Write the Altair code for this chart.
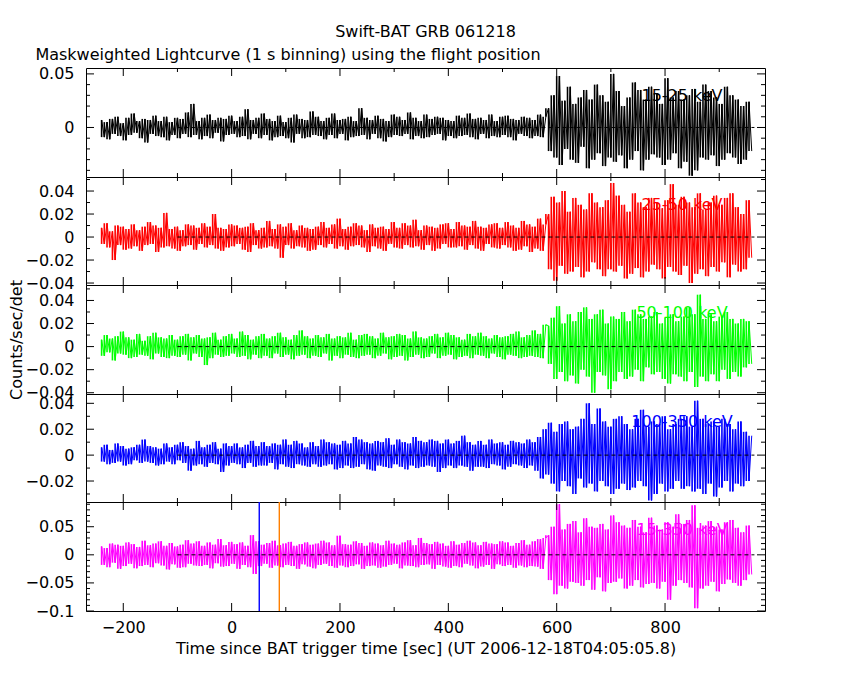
import altair as alt
import pandas as pd

FONT = "DejaVu Sans"
STEP = 5.0          # seconds between plotted samples
PRE_START = -240.0  # first sample time

# ---- count rates, in units of 1e-3 counts/sec/det ----
# 15-25 keV
p1_pre = [7,-9,5,-11,8,-6,10,-8,4,-12,
          9,-7,13,-5,6,-10,8,-14,7,-6,
          11,-8,6,-9,10,-12,5,-7,9,-10,
          8,-6,14,-9,22,-7,6,-11,9,-8,
          12,-10,7,-5,9,-13,8,-7,11,-6,
          6,-9,10,-8,17,-11,7,-6,9,-10,
          13,-7,8,-12,6,-9,11,-8,5,-10,
          9,-14,12,-6,8,-10,7,-9,15,-7,
          10,-8,6,-11,9,-7,13,-10,7,-6,
          8,-12,10,-9,6,-8,18,-7,9,-11,
          7,-6,11,-10,8,-13,6,-9,12,-7,
          10,-8,7,-6,14,-11,9,-8,6,-10,
          12,-9,8,-7,10,-6,9,-12,7,-8,
          6,-10,11,-8,9,-7,13,-9,8,-11,
          9,-6,7,-10,12,-8,6,-9,10,-7,
          11,-9,8,-12,7,-6,10,-8,9,-10,
          7,-8,12,-9,10]
p1_post = [18,-22,30,-28,48,-35,25,-20,38,-30,
           22,-33,28,-18,35,-38,26,-30,40,-24,
           30,-36,24,-28,50,-32,34,-26,20,-38,
           28,-30,42,-22,35,-40,26,-30,38,-25,
           32,-28,22,-35,46,-30,28,-24,34,-38,
           26,-32,30,-45,36,-40,24,-28,40,-30,
           34,-26,28,-36,22,-30,38,-24,30,-28,
           26,-34,20,-30,24,-22]
# 25-50 keV
p2_pre = [8,-6,12,-9,5,-20,10,-7,9,-11,
          7,-10,11,-8,6,-12,9,-7,13,-6,
          10,-13,8,-9,21,-8,7,-10,9,-12,
          6,-8,11,-7,10,-11,8,-6,12,-9,
          9,-7,20,-10,8,-12,7,-9,11,-8,
          10,-6,8,-11,9,-13,12,-7,6,-10,
          8,-9,14,-8,7,-10,11,-18,9,-7,
          12,-10,6,-8,10,-9,8,-12,7,-11,
          9,-7,13,-9,8,-6,11,-10,16,-8,
          7,-11,9,-8,12,-7,10,-9,6,-13,
          11,-8,8,-10,9,-12,7,-6,13,-9,
          8,-10,12,-7,10,-9,15,-8,6,-11,
          10,-7,9,-12,8,-10,11,-6,12,-9,
          7,-9,13,-8,10,-11,9,-7,14,-10,
          9,-12,8,-6,11,-9,12,-10,8,-7,
          13,-9,10,-12,8,-11,14,-8,11,-13,
          9,-10,16,-12,11]
p2_post = [20,-28,35,-38,30,-25,40,-32,22,-30,
           34,-26,28,-35,24,-30,38,-22,30,-28,
           26,-34,32,-28,47,-30,36,-25,28,-36,
           22,-32,38,-27,30,-35,26,-30,34,-24,
           30,-28,25,-36,32,-26,46,-30,28,-33,
           35,-25,30,-40,26,-32,38,-28,24,-34,
           30,-26,36,-30,28,-22,34,-35,38,-24,
           26,-30,20,-28,32,-18]
# 50-100 keV
p3_pre = [6,-8,10,-5,7,-12,9,-6,13,-7,
          8,-10,6,-9,11,-7,5,-8,9,-11,
          12,-6,8,-9,7,-10,10,-8,6,-9,
          9,-7,11,-12,8,-6,10,-9,7,-16,
          8,-10,12,-7,6,-9,9,-8,11,-6,
          7,-9,13,-8,10,-11,6,-7,9,-10,
          11,-8,7,-10,9,-6,12,-9,8,-7,
          6,-11,10,-8,14,-7,9,-10,7,-8,
          10,-9,8,-6,11,-12,7,-8,9,-10,
          8,-7,12,-9,6,-10,10,-8,11,-7,
          9,-10,7,-8,12,-6,8,-11,9,-9,
          11,-8,10,-12,7,-9,13,-7,8,-10,
          7,-9,9,-6,11,-10,8,-8,12,-7,
          10,-11,8,-9,6,-8,11,-10,9,-7,
          12,-8,9,-10,7,-6,10,-9,8,-11,
          9,-7,11,-8,13,-10,8,-9,10,-8,
          14,-9,11,-10,19]
p3_post = [18,-15,25,-28,35,-22,20,-30,28,-25,
           22,-32,30,-20,34,-26,24,-40,28,-22,
           32,-25,20,-37,26,-30,24,-22,30,-28,
           22,-26,32,-20,28,-30,24,-18,26,-24,
           30,-22,20,-28,25,-32,28,-24,22,-26,
           26,-30,34,-22,28,-35,45,-26,24,-30,
           28,-24,22,-30,26,-20,30,-28,24,-22,
           20,-26,24,-18,22,-15]
# 100-350 keV
p4_pre = [6,-5,8,-7,4,-6,9,-5,7,-8,
          5,-7,6,-4,8,-6,12,-5,7,-6,
          6,-8,5,-7,9,-5,6,-7,8,-4,
          10,-6,7,-12,5,-8,11,-7,6,-9,
          8,-6,10,-7,5,-13,9,-8,7,-6,
          9,-7,6,-10,8,-6,11,-9,7,-8,
          10,-8,7,-6,9,-11,8,-7,12,-9,
          8,-10,11,-7,9,-8,6,-9,10,-7,
          7,-9,12,-8,10,-7,9,-11,8,-10,
          11,-8,9,-10,14,-9,12,-7,10,-11,
          9,-12,11,-8,10,-9,13,-10,8,-7,
          12,-9,10,-11,9,-8,14,-10,11,-9,
          10,-8,12,-9,11,-13,9,-10,12,-8,
          9,-10,11,-8,15,-9,10,-12,8,-9,
          11,-9,8,-10,12,-7,9,-8,10,-11,
          8,-9,11,-7,10,-8,9,-10,12,-8,
          10,-12]
p4_post = [14,-18,20,-15,25,-22,18,-28,24,-20,
           26,-24,20,-30,22,-18,28,-25,40,-22,
           24,-28,36,-20,26,-24,22,-30,28,-26,
           30,-22,24,-27,20,-25,28,-20,35,-24,
           22,-35,26,-30,24,-22,30,-28,20,-26,
           24,-20,28,-26,30,-24,22,-28,42,-26,
           28,-30,24,-22,26,-32,22,-25,28,-20,
           24,-28,20,-22,26,-24,18,-20,15]
# 15-350 keV
p5_pre = [15,-18,12,-22,20,-14,18,-25,16,-20,
          22,-16,19,-24,14,-20,25,-18,17,-22,
          20,-15,24,-19,16,-26,21,-17,15,-23,
          18,-22,26,-16,20,-19,24,-20,16,-18,
          22,-24,18,-15,28,-21,17,-20,23,-16,
          19,-25,22,-18,16,-22,35,-34,24,-20,
          18,-16,21,-23,25,-19,17,-22,20,-18,
          23,-20,16,-25,19,-17,22,-21,18,-24,
          20,-18,25,-16,22,-20,17,-23,34,-19,
          19,-22,18,-20,24,-17,21,-25,16,-20,
          22,-19,20,-23,17,-21,25,-18,20,-16,
          18,-24,22,-19,26,-20,17,-22,30,-18,
          21,-17,19,-25,23,-18,20,-21,16,-23,
          24,-20,18,-22,21,-16,25,-19,22,-24,
          17,-21,23,-18,20,-25,19,-17,24,-20,
          22,-18,16,-23,21,-19,26,-22,18,-20,
          24,-21,28,-25,30]
p5_post = [35,-45,50,-70,90,-55,45,-60,55,-48,
           60,-50,40,-55,65,-45,50,-62,48,-40,
           55,-65,45,-50,70,-48,58,-42,52,-60,
           48,-55,62,-45,50,-58,40,-52,66,-50,
           52,-60,45,-48,58,-80,50,-55,72,-45,
           55,-50,62,-58,88,-95,48,-60,52,-55,
           60,-48,50,-65,45,-52,58,-44,62,-50,
           48,-55,40,-45,52,-35]

PRE = [p1_pre, p2_pre, p3_pre, p4_pre, p5_pre]
POST = [p1_post, p2_post, p3_post, p4_post, p5_post]
POST_START = [585, 585, 585, 570, 585]

LABELS = ["15-25 keV", "25-50 keV", "50-100 keV", "100-350 keV", "15-350 keV"]
COLORS = ["#000000", "#ff0000", "#00ff00", "#0000ff", "#ff00ff"]
YDOMAINS = [[-0.0462, 0.0555], [-0.0417, 0.0522], [-0.0411, 0.0534],
            [-0.0362, 0.0472], [-0.1, 0.094]]
YMAJOR = [[0.05, 0], [0.04, 0.02, 0, -0.02, -0.04], [0.04, 0.02, 0, -0.02, -0.04],
          [0.04, 0.02, 0, -0.02], [0.05, 0, -0.05, -0.1]]
YMINOR = [[0.04, 0.03, 0.02, 0.01, -0.01, -0.02, -0.03, -0.04],
          [0.05, 0.03, 0.01, -0.01, -0.03],
          [0.05, 0.03, 0.01, -0.01, -0.03],
          [0.03, 0.01, -0.01, -0.03],
          [0.09, 0.08, 0.07, 0.06, 0.04, 0.03, 0.02, 0.01,
           -0.01, -0.02, -0.03, -0.04, -0.06, -0.07, -0.08, -0.09]]
XDOM = [-268.8, 984.5]
XMAJOR = [-200, 0, 200, 400, 600, 800]
XMINOR = [-100, 100, 300, 500, 700, 900]
ZERO_LINE = [-100, 965]
MARK_T = [51, 88]
MARK_C = ["#0000ff", "#ff7f00"]

W = 679
HEIGHTS = [109, 108, 109, 108, 109]
MAJ, MIN = 8, 4


def make_panel(i):
    H = HEIGHTS[i]
    ts = [PRE_START + STEP * k for k in range(len(PRE[i]))] + \
         [POST_START[i] + STEP * k for k in range(len(POST[i]))]
    vals = [v / 1000.0 for v in PRE[i]] + [v / 1000.0 for v in POST[i]]
    df = pd.DataFrame({"t": ts, "rate": vals})
    # each column spans from one sample to the next (the swing of the noise)
    seg = df.copy()
    seg["next"] = seg["rate"].shift(-1)
    seg = seg.dropna()

    xs = alt.Scale(domain=XDOM, nice=False, zero=False)
    ys = alt.Scale(domain=YDOMAINS[i], nice=False, zero=False)

    if i == 4:
        xaxis = alt.Axis(values=XMAJOR, ticks=False, tickSize=0, domain=False, grid=False,
                         labelPadding=8, format="d", labelFontSize=16, labelFont=FONT,
                         labelColor="black",
                         title="Time since BAT trigger time [sec] (UT 2006-12-18T04:05:05.8)",
                         titleFont=FONT, titleFontSize=16, titleFontWeight="normal",
                         titlePadding=5, titleColor="black")
    else:
        xaxis = None
    yaxis = alt.Axis(values=YMAJOR[i], ticks=False, tickSize=0, domain=False, grid=False,
                     labelPadding=12, format="~g", labelFontSize=16, labelFont=FONT,
                     labelColor="black", labelOverlap=False, labelBound=False,
                     title=("Counts/sec/det" if i == 2 else None),
                     titleFont=FONT, titleFontSize=16, titleFontWeight="normal",
                     titlePadding=0, titleColor="black")

    def X(field):
        return alt.X(field, scale=xs, axis=xaxis)

    def Y(field):
        return alt.Y(field, scale=ys, axis=yaxis)

    cols = alt.Chart(seg).mark_rule(color=COLORS[i], strokeWidth=1.6).encode(
        x=X("t:Q"), y=Y("rate:Q"), y2="next:Q")

    line = alt.Chart(df).mark_line(color=COLORS[i], strokeWidth=1, clip=True).encode(
        x=X("t:Q"), y=Y("rate:Q"))

    zdf = pd.DataFrame({"x0": [ZERO_LINE[0]], "x1": [ZERO_LINE[1]], "y0": [0.0]})
    zero = alt.Chart(zdf).mark_rule(color="black", strokeDash=[4, 3], strokeWidth=1).encode(
        x=X("x0:Q"), x2="x1:Q", y=Y("y0:Q"))

    ldf = pd.DataFrame({"label": [LABELS[i]]})
    label = alt.Chart(ldf).mark_text(align="center", baseline="alphabetic", fontSize=16,
                                     font=FONT, color=COLORS[i]).encode(
        x=alt.value(596), y=alt.value(33), text="label:N")

    layers = [cols, line, zero]
    if i == 4:
        mdf = pd.DataFrame({"t": MARK_T, "c": MARK_C})
        marks = alt.Chart(mdf).mark_rule(strokeWidth=1.4).encode(
            x=X("t:Q"), color=alt.Color("c:N", scale=None))
        layers.append(marks)
    layers.append(label)

    for vals_, L in ((YMAJOR[i], MAJ), (YMINOR[i], MIN)):
        d = pd.DataFrame({"v": vals_})
        layers.append(alt.Chart(d).mark_rule(color="black", strokeWidth=1).encode(
            y=Y("v:Q"), x=alt.value(0), x2=alt.value(L)))
        layers.append(alt.Chart(d).mark_rule(color="black", strokeWidth=1).encode(
            y=Y("v:Q"), x=alt.value(W), x2=alt.value(W - L)))
    for vals_, L in ((XMAJOR, MAJ), (XMINOR, MIN)):
        d = pd.DataFrame({"v": vals_})
        layers.append(alt.Chart(d).mark_rule(color="black", strokeWidth=1).encode(
            x=X("v:Q"), y=alt.value(0), y2=alt.value(L)))
        layers.append(alt.Chart(d).mark_rule(color="black", strokeWidth=1).encode(
            x=X("v:Q"), y=alt.value(H), y2=alt.value(H - L)))

    ch = alt.layer(*layers).properties(width=W, height=H)
    if i == 0:
        ch = ch.properties(title=alt.TitleParams(
            "Maskweighted Lightcurve (1 s binning) using the flight position",
            anchor="start", font=FONT, fontSize=16, fontWeight="normal", color="black",
            baseline="alphabetic", offset=-10, dx=-3))
    return ch


chart = alt.vconcat(*[make_panel(i) for i in range(5)], spacing=0, bounds="flush").properties(
    title=alt.TitleParams("Swift-BAT GRB 061218", anchor="middle", frame="group",
                          font=FONT, fontSize=16, fontWeight="normal", color="black",
                          baseline="alphabetic", offset=-7),
    padding={"left": 0, "top": 16, "right": 5, "bottom": 5},
    background="white",
).configure_view(stroke="black", strokeWidth=1)

chart.save("out.html", embed_options={"renderer": "svg", "actions": False})
